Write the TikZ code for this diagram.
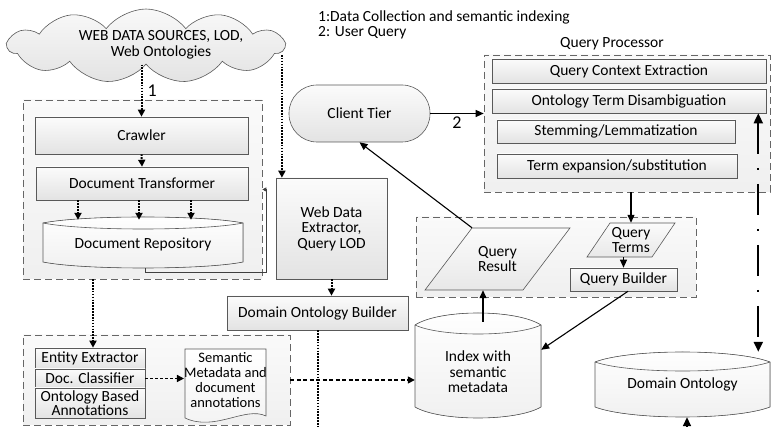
\documentclass[tikz,border=0pt]{standalone}
\usepackage{fontspec}
\setmainfont{Carlito}
\usetikzlibrary{arrows.meta,shapes.symbols,calc}
\newcommand\lenscyl[7]{%
\filldraw[cylsty] (#1,#4) .. controls ({#1+0.2*(#2-#1)},{(4*#3-#4)/3}) and ({#2-0.2*(#2-#1)},{(4*#3-#4)/3}) .. (#2,#4) -- (#2,#6) .. controls ({#2-0.2*(#2-#1)},{(4*#7-#6)/3}) and ({#1+0.2*(#2-#1)},{(4*#7-#6)/3}) .. (#1,#6) -- cycle;
\draw[cylline] (#1,#4) .. controls ({#1+0.2*(#2-#1)},{(4*#5-#4)/3}) and ({#2-0.2*(#2-#1)},{(4*#5-#4)/3}) .. (#2,#4);}
\begin{document}
\begin{tikzpicture}[x=1pt,y=-1pt,
  every node/.style={font=\fontsize{15.5}{15.5}\selectfont, inner sep=0pt},
  cont/.style={draw=gray!80!black, dash pattern=on 7pt off 4pt, line width=0.6pt, top color=gray!4, bottom color=gray!12},
  box/.style={draw=gray!70!black, line width=0.6pt, top color=gray!3, bottom color=gray!22, align=center},
  cylsty/.style={draw=gray!70!black, line width=0.6pt, top color=white, bottom color=gray!12},
  cylline/.style={draw=gray!70!black, line width=0.6pt},
  parasty/.style={draw=gray!70!black, line width=0.6pt, top color=gray!3, bottom color=gray!18},
  docsty/.style={draw=gray!70!black, line width=0.6pt, top color=white, bottom color=gray!10},
  darr/.style={line width=2pt, dash pattern=on 1.6pt off 1.3pt, -{Triangle[length=7pt,width=7pt]}},
  dline/.style={line width=2pt, dash pattern=on 1.6pt off 1.3pt},
  sarr/.style={line width=1.1pt, -{Triangle[length=8pt,width=7pt]}},
  harr/.style={line width=1.4pt, dash pattern=on 4pt off 2.5pt, -{Triangle[length=7pt,width=7pt]}},
  harrs/.style={line width=1.4pt, dash pattern=on 3pt off 2pt, -{Triangle[length=7pt,width=7pt]}},
  thinarr/.style={line width=0.7pt, draw=gray!50!black, -{Triangle[length=4pt,width=4pt]}},
  ddarr/.style={line width=2pt, dash pattern=on 31pt off 14pt on 2pt off 14pt, {Triangle[length=10pt,width=9pt]}-{Triangle[length=10pt,width=9pt]}},
  numlbl/.style={font=\fontsize{18}{18}\selectfont}
]
\useasboundingbox (0,0) rectangle (772,427);

% cloud and legend
\node[cloud, cloud puffs=11, cloud puff arc=105, aspect=3.8, draw=gray!70!black, line width=0.6pt, top color=gray!5, bottom color=gray!22, minimum width=276pt, minimum height=74pt] (cloud) at (146,46) {};
\node[align=center, font=\fontsize{15.5}{16}\selectfont] (cloudtxt) at (161,45) {WEB DATA SOURCES, LOD,\\Web Ontologies};
\node[anchor=north west, align=left, font=\fontsize{15.5}{15}\selectfont] (legend) at (318,11) {1:Data Collection and semantic indexing\\2: User Query};
\node (qplabel) at (612,44) {Query Processor};

% containers
\node[cont, minimum width=239pt, minimum height=179pt] (lc) at (142.5,189.5) {};
\node[cont, minimum width=267pt, minimum height=90pt] (blc) at (156.5,380) {};
\node[cont, minimum width=286pt, minimum height=137pt] (qp) at (627,123.5) {};
\node[cont, minimum width=280pt, minimum height=80pt] (qc) at (556,257) {};

% left column
\node[box, minimum width=213pt, minimum height=37pt] (crawler) at (141.5,135.5) {Crawler};
\node[box, minimum width=212pt, minimum height=33pt] (doctrans) at (142,183.5) {Document Transformer};
\lenscyl{43}{243}{217}{223}{229}{262}{268}
\node[minimum width=200pt, minimum height=48pt] (docrepo) at (143,244) {Document Repository};

\node[box, minimum width=111pt, minimum height=101pt, font=\fontsize{15.5}{15.5}\selectfont] (wde) at (331.5,228.5) {Web Data\\Extractor,\\Query LOD};
\node[box, minimum width=181pt, minimum height=34pt] (dob) at (317.5,313) {Domain Ontology Builder};

\node[box, minimum width=110pt, minimum height=21pt] (ee) at (90,358.5) {Entity Extractor};
\node[box, minimum width=110pt, minimum height=19pt] (dc) at (90,378.5) {Doc. Classifier};
\node[box, minimum width=110pt, minimum height=30pt, font=\fontsize{15.5}{14}\selectfont] (oba) at (90,403) {Ontology Based\\Annotations};

\draw[docsty] (185,349) -- (266,349) -- (266,416) .. controls (245,406) and (215,432) .. (185,418) -- cycle;
\node[align=center, font=\fontsize{14.5}{14.7}\selectfont, minimum width=81pt] (semdoc) at (225.5,380) {Semantic\\Metadata and\\document\\annotations};

% index and domain ontology
\lenscyl{415}{541}{313}{325}{334}{407}{418}
\node[align=center, minimum width=126pt, minimum height=92pt] (idx) at (478,372) {Index with\\semantic\\metadata};
\lenscyl{595}{770}{352}{362}{371}{407}{417}
\node[minimum width=175pt, minimum height=65pt] (do) at (682.5,384.5) {Domain Ontology};

% client tier
\node[box, rounded corners=28pt, minimum width=141pt, minimum height=57pt] (ct) at (359.5,113.5) {Client Tier};

% query processor
\node[box, minimum width=274pt, minimum height=24pt] (qce) at (629,71) {Query Context Extraction};
\node[box, minimum width=274pt, minimum height=24pt] (otd) at (629,101) {Ontology Term Disambiguation};
\node[box, minimum width=238pt, minimum height=23pt] (sl) at (616,131.5) {Stemming/Lemmatization};
\node[box, minimum width=240pt, minimum height=24pt] (tes) at (617,166) {Term expansion/substitution};

% query container content
\coordinate (qrc) at (497.5,259);
\draw[parasty] ($(qrc)+(-72.5,31)$) -- ($(qrc)+(-25.5,-31)$) -- ($(qrc)+(72.5,-31)$) -- ($(qrc)+(25.5,31)$) -- cycle;
\node[align=center, minimum height=62pt] (qr) at (qrc) {Query\\Result};
\coordinate (qtc) at (631,240);
\draw[parasty] ($(qtc)+(-44,17)$) -- ($(qtc)+(-21,-17)$) -- ($(qtc)+(44,-17)$) -- ($(qtc)+(21,17)$) -- cycle;
\node[align=center, minimum height=34pt] (qt) at (qtc) {Query\\Terms};
\node[box, minimum width=107pt, minimum height=23pt] (qb) at (623.5,279.5) {Query Builder};

% connectors
\draw[darr] (crawler.north |- cloud.south) -- node[right=5pt, numlbl] {1} (crawler.north);
\draw[darr] (crawler.south) -- (doctrans.north);
\foreach \dx in {-64,-3,49} {
  \coordinate (dtp) at ($(doctrans.south)+(\dx,0)$);
  \draw[darr] (dtp) -- (dtp |- docrepo.north);
}
\draw[thinarr] ($(docrepo.south)+(2,0)$) |- ($(lc.east)+(4,82.5)$) -- ($(lc.east)+(4,0)$) -- (lc.east);
\coordinate (cloudR) at ($(cloud.east)+(-4,9)$);
\draw[darr] (cloudR) -- (cloudR |- wde.north);
\draw[darr] (wde.south) -- (wde.south |- dob.north);
\coordinate (dobEnd) at (318,432);
\draw[dline] (dob.south) -- (dob.south |- dobEnd);
\coordinate (lcb) at ($(lc.south)+(-49.5,0)$);
\draw[darr] (lcb) -- (lcb |- ee.north);
\draw[harrs] (dc.east) -- (semdoc.west |- dc.east);
\draw[harr] (blc.east) -- (idx.west |- blc.east);
\coordinate (idxTop) at ($(idx.north)+(5,-4)$);
\draw[sarr] (idxTop) -- (idxTop |- qr.south);
\coordinate (qrTL) at ($(qr.north)+(-25.5,0)$);
\draw[sarr] (qrTL) -- (ct.south);
\draw[sarr] (ct.east) -- node[below=3pt, numlbl] {2} (ct.east -| qp.west);
\draw[sarr] (qt.north |- qp.south) -- (qt.north);
\draw[sarr] (qb.north |- qt.south) -- (qb.north);
\coordinate (qbS) at ($(qb.south)+(4.5,0)$);
\draw[sarr] (qbS) -- ($(idx.north east)+(0,24)$);
\coordinate (ddTop) at ($(otd.south east)+(-8,0)$);
\draw[ddarr] (ddTop) -- (ddTop |- do.north);
\coordinate (doIn) at ($(do.south)+(4.5,12)$);
\draw[line width=1.6pt, -{Triangle[length=9pt,width=8pt]}] (doIn) -- (doIn |- do.south);
\end{tikzpicture}
\end{document}
